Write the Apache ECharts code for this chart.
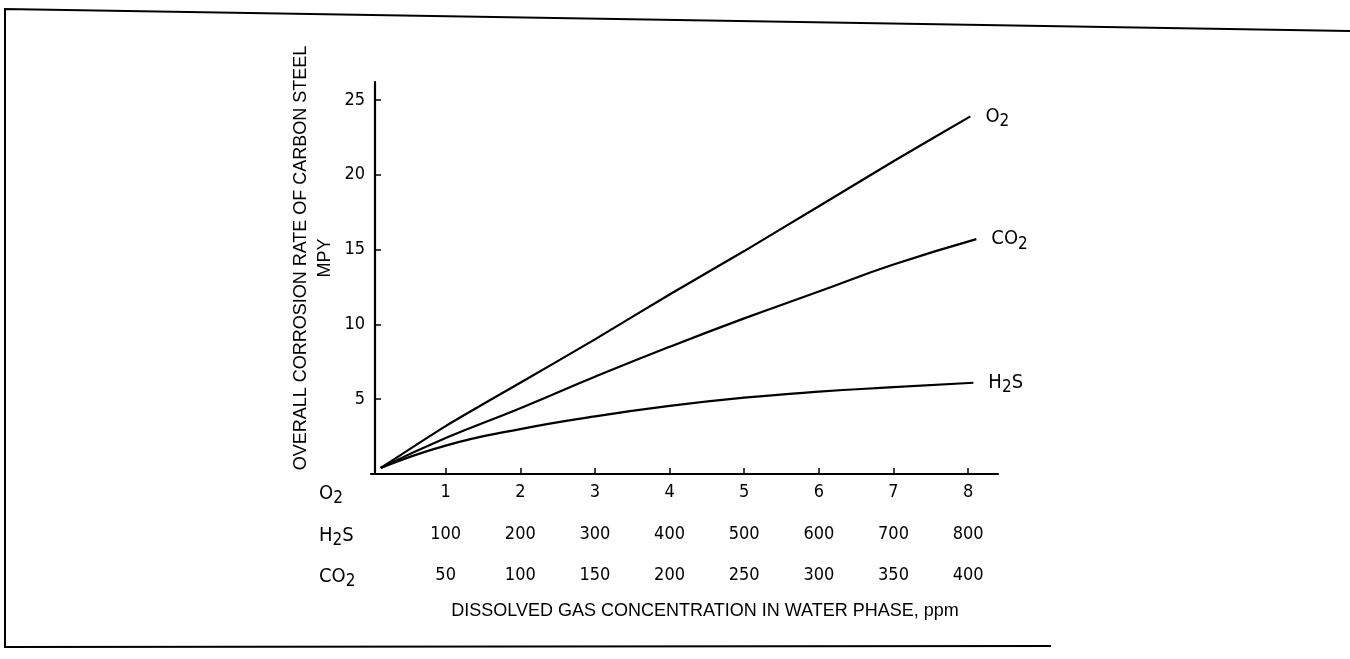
<!DOCTYPE html>
<html>
<head>
<meta charset="utf-8">
<script src="https://cdn.jsdelivr.net/npm/echarts@6/dist/echarts.min.js"></script>
<style>html,body{margin:0;padding:0;background:#fff}#c{width:1350px;height:659px}</style>
</head>
<body>
<div id="c"></div>
<script>
// ---- data ----
var tickValues = [1, 2, 3, 4, 5, 6, 7, 8];
var o2Ticks  = ['1', '2', '3', '4', '5', '6', '7', '8'];
var h2sTicks = ['100', '200', '300', '400', '500', '600', '700', '800'];
var co2Ticks = ['50', '100', '150', '200', '250', '300', '350', '400'];
var yTicks = [5, 10, 15, 20, 25];

var o2X  = [0.13, 1, 2, 3, 4, 5, 6, 7, 8.03];
var o2Y  = [0.4, 3.2, 6.1, 9.0, 12.0, 14.9, 17.9, 20.9, 23.9];
var co2X = [0.13, 1, 2, 3, 4, 5, 6, 7, 8.11];
var co2Y = [0.4, 2.4, 4.4, 6.5, 8.5, 10.4, 12.2, 14.0, 15.7];
var h2sX = [0.13, 1, 2, 3, 4, 5, 6, 7, 8.07];
var h2sY = [0.4, 1.9, 3.0, 3.85, 4.55, 5.1, 5.5, 5.8, 6.1];

var yTitle = 'OVERALL CORROSION RATE OF CARBON STEEL\nMPY';
var xTitle = 'DISSOLVED GAS CONCENTRATION IN WATER PHASE, ppm';

function pairs(xs, ys) { return xs.map(function (x, i) { return [x, ys[i]]; }); }
function pick(arr) {
  return function (v) {
    var r = Math.round(v);
    if (Math.abs(v - r) > 1e-6 || r < 1 || r > arr.length) return '';
    return arr[r - 1];
  };
}

var NARROW = '"DejaVu Sans Condensed","Liberation Sans Narrow",sans-serif';
var SANS = '"Liberation Sans",Arial,sans-serif';
var chemRich = {
  b: { fontFamily: NARROW, fontSize: 20, color: '#000' },
  s: { fontFamily: NARROW, fontSize: 17, color: '#000', verticalAlign: 'top', padding: [10, 0, 0, 0] }
};

function rowAxis(offset, labels, name, showLine) {
  return {
    type: 'value', min: 0, max: 8.4, position: 'bottom', offset: offset,
    axisLine: { show: showLine, onZero: false, lineStyle: { color: '#000', width: 2.2 } },
    axisTick: { show: showLine, inside: true, length: 6, customValues: tickValues, lineStyle: { color: '#000', width: 1.5 } },
    axisLabel: { show: true, customValues: tickValues, formatter: pick(labels), margin: 9,
      fontFamily: NARROW, fontSize: 18, color: '#000' },
    splitLine: { show: false },
    name: name, nameLocation: 'start', nameGap: 52,
    nameTextStyle: { align: 'left', verticalAlign: 'top', padding: [6, 0, 0, 0], rich: chemRich }
  };
}

var chart = echarts.init(document.getElementById('c'), null, { renderer: 'canvas' });
var lineStyle = { color: '#000', width: 2.2 };
function series(name, data, label, smooth) {
  return {
    type: 'line', name: name, data: data, smooth: smooth, symbol: 'none',
    lineStyle: lineStyle, xAxisIndex: 0, yAxisIndex: 0,
    endLabel: { show: true, formatter: label, distance: 15, rich: chemRich },
    animation: false
  };
}

chart.setOption({
  animation: false,
  backgroundColor: '#fff',
  grid: { left: 371, right: 352, top: 82, bottom: 185, containLabel: false },
  title: {
    text: xTitle, left: 700, top: 597, textAlign: 'center',
    textStyle: { fontFamily: SANS, fontSize: 18, fontWeight: 'normal', color: '#000' }
  },
  xAxis: [
    rowAxis(0, o2Ticks, '{b|O}{s|2}', true),
    rowAxis(42, h2sTicks, '{b|H}{s|2}{b|S}', false),
    rowAxis(83, co2Ticks, '{b|CO}{s|2}', false)
  ],
  yAxis: {
    type: 'value', min: 0, max: 26.2, offset: -4,
    axisLine: { show: true, lineStyle: { color: '#000', width: 2.2 } },
    axisTick: { show: true, inside: true, length: 6, customValues: yTicks, lineStyle: { color: '#000', width: 1.5 } },
    axisLabel: { customValues: yTicks, margin: 10, fontFamily: NARROW, fontSize: 18, color: '#000' },
    splitLine: { show: false },
    name: yTitle, nameLocation: 'middle', nameRotate: 90, nameGap: 38,
    nameTextStyle: { fontFamily: SANS, fontSize: 18, color: '#000', lineHeight: 24, padding: [0, 0, 0, 40] }
  },
  graphic: [
    { type: 'polyline', silent: true, shape: { points: [[1350, 31], [5, 9], [5, 647], [1051, 646]] },
      style: { stroke: '#000', lineWidth: 2, fill: null } }
  ],
  series: [
    series('O2', pairs(o2X, o2Y), '{b|O}{s|2}', 0.2),
    series('CO2', pairs(co2X, co2Y), '{b|CO}{s|2}', 0.5),
    series('H2S', pairs(h2sX, h2sY), '{b|H}{s|2}{b|S}', 0.5)
  ]
});
</script>
</body>
</html>
